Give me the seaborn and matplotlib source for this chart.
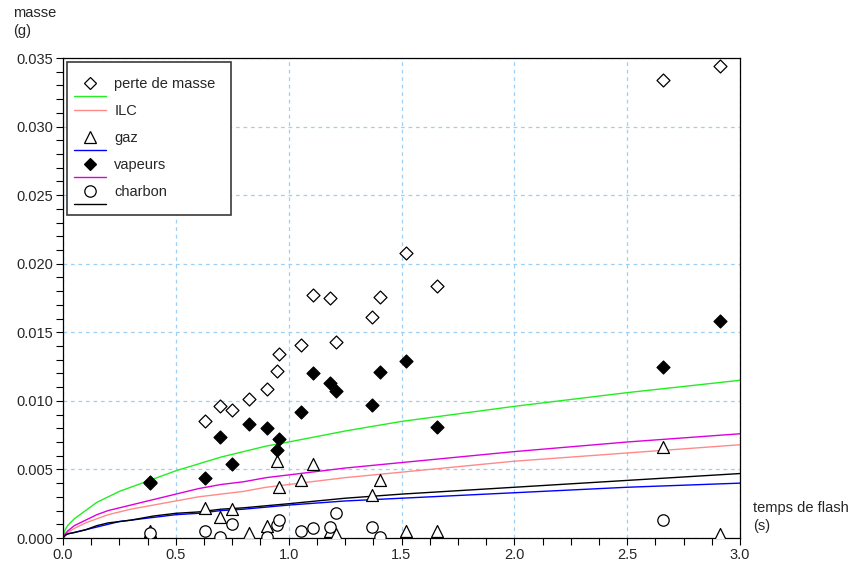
import numpy as np
import matplotlib
matplotlib.use('Agg')
import matplotlib.pyplot as plt
import seaborn as sns
from matplotlib.ticker import MultipleLocator, FormatStrFormatter
from matplotlib.legend_handler import HandlerBase
from matplotlib.lines import Line2D

# mesures (temps de flash en s, masses en g)
t = [0.385, 0.631, 0.694, 0.747, 0.826, 0.903, 0.950, 0.959, 1.053,
     1.106, 1.183, 1.208, 1.369, 1.406, 1.519, 1.657, 2.659, 2.911]
perte = [0.0040, 0.0085, 0.0096, 0.0093, 0.0101, 0.0109, 0.0122, 0.0134, 0.0141,
         0.0177, 0.0175, 0.0143, 0.0161, 0.0176, 0.0208, 0.0184, 0.0334, 0.0344]
vapeurs = [0.0041, 0.0044, 0.0074, 0.0054, 0.0083, 0.0080, 0.0064, 0.0072, 0.0092,
           0.0120, 0.0113, 0.0107, 0.0097, 0.0121, 0.0129, 0.0081, 0.0125, 0.0158]
gaz = [0.0005, 0.0022, 0.0015, 0.0021, 0.00035, 0.0009, 0.0056, 0.0037, 0.0042,
       0.0054, 0.0005, 0.0003, 0.0031, 0.0042, 0.0005, 0.0005, 0.0066, 0.0003]
charbon = [0.0004, 0.0005, 0.0001, 0.0010, np.nan, 0.0001, 0.00095, 0.0013, 0.0005,
           0.0007, 0.0008, 0.0018, 0.0008, 0.0001, np.nan, np.nan, 0.0013, np.nan]

# courbes du modele
t_mod = [0, 0.005, 0.01, 0.02, 0.05, 0.1, 0.15, 0.2, 0.25, 0.3, 0.4, 0.5, 0.6, 0.7,
         0.8, 0.9, 1.0, 1.25, 1.5, 2.0, 2.5, 3.0]
mod_perte = [0, 0.0004, 0.0006, 0.0009, 0.0014, 0.0020, 0.0026, 0.0030, 0.0034, 0.0037,
             0.0043, 0.0049, 0.0054, 0.0059, 0.0063, 0.0067, 0.0070, 0.0078, 0.0085,
             0.0096, 0.0106, 0.0115]
mod_ilc = [0, 0.0002, 0.0003, 0.0004, 0.0007, 0.0011, 0.0014, 0.0017, 0.0019, 0.0021,
           0.0024, 0.0027, 0.0030, 0.0032, 0.0034, 0.0037, 0.0039, 0.0044, 0.0048,
           0.0056, 0.0062, 0.0068]
mod_gaz = [0, 0.0001, 0.0002, 0.0003, 0.0004, 0.0006, 0.0008, 0.0010, 0.0012, 0.0013,
           0.0015, 0.0017, 0.0018, 0.0020, 0.0021, 0.00225, 0.0024, 0.0027, 0.0029,
           0.0033, 0.0037, 0.0040]
mod_vapeurs = [0, 0.0002, 0.0003, 0.0005, 0.0009, 0.0013, 0.0017, 0.0020, 0.0022, 0.0024,
               0.0028, 0.0032, 0.0036, 0.0039, 0.0041, 0.0044, 0.0046, 0.0051, 0.0055,
               0.0063, 0.0070, 0.0076]
mod_charbon = [0, 0.0001, 0.0002, 0.0003, 0.0004, 0.0006, 0.0009, 0.0011, 0.0012, 0.0013,
               0.0016, 0.0018, 0.0019, 0.0021, 0.0022, 0.00235, 0.0025, 0.0029, 0.0032,
               0.0037, 0.0042, 0.0047]

c_perte, c_ilc, c_gaz, c_vap, c_charb = '#22ee22', '#ff8a8a', '#0000ff', '#dd00dd', 'black'

sns.set_style('ticks')
plt.rcParams['font.family'] = ['Liberation Sans', 'DejaVu Sans']
plt.rcParams['font.size'] = 10.5

fig = plt.figure(figsize=(8.52, 5.65), dpi=100)
ax = fig.add_axes([63/852, 27/565, 677/852, 480/565])

ax.grid(True, which='major', color='#9fd0f4', linestyle=(0, (3, 3)), linewidth=0.9)
ax.set_axisbelow(True)

for yy, cc in [(mod_perte, c_perte), (mod_ilc, c_ilc), (mod_gaz, c_gaz),
               (mod_vapeurs, c_vap), (mod_charbon, c_charb)]:
    sns.lineplot(x=t_mod, y=yy, color=cc, linewidth=1.0, estimator=None, ax=ax, zorder=2)

ms_d, ms_t, ms_o = 6.6, 8.6, 8.2
sns.scatterplot(x=t, y=perte, marker='D', s=ms_d**2, color='white', edgecolor='black', linewidth=0.9, zorder=3, ax=ax)
sns.scatterplot(x=t, y=gaz, marker='^', s=ms_t**2, color='white', edgecolor='black', linewidth=0.9, zorder=3, ax=ax)
sns.scatterplot(x=t, y=vapeurs, marker='D', s=ms_d**2, color='black', edgecolor='black', linewidth=0.9, zorder=3, ax=ax)
sns.scatterplot(x=t, y=charbon, marker='o', s=ms_o**2, color='white', edgecolor='black', linewidth=0.9, zorder=3, ax=ax)

ax.set_xlim(0, 3.0)
ax.set_ylim(0, 0.035)
ax.xaxis.set_major_locator(MultipleLocator(0.5))
ax.xaxis.set_minor_locator(MultipleLocator(0.125))
ax.yaxis.set_major_locator(MultipleLocator(0.005))
ax.yaxis.set_minor_locator(MultipleLocator(0.001))
ax.xaxis.set_major_formatter(FormatStrFormatter('%.1f'))
ax.yaxis.set_major_formatter(FormatStrFormatter('%.3f'))
ax.tick_params(which='both', direction='out', length=5, width=0.8, color='black', labelsize=10.5, pad=2)
ax.set_xlabel('')
ax.set_ylabel('')
for sp in ax.spines.values():
    sp.set_color('black')
    sp.set_linewidth(0.9)


class MarkerOverLine(HandlerBase):
    # marqueur en haut, trait en dessous (comme la legende d'origine)
    def __init__(self, ext=5.8, drop=9.4):
        super().__init__()
        self.ext = ext
        self.drop = drop

    def create_artists(self, legend, orig_handle, xdescent, ydescent, width, height, fontsize, trans):
        mk, ln = orig_handle
        x0 = -xdescent - self.ext
        x1 = -xdescent + width
        yc = (height - ydescent) / 2
        arts = []
        if mk is None:
            l = Line2D([x0, x1], [yc, yc], color=ln.get_color(), lw=ln.get_linewidth())
            arts.append(l)
        else:
            l = Line2D([x0, x1], [yc - self.drop] * 2, color=ln.get_color(), lw=ln.get_linewidth())
            m = Line2D([(x0 + x1) / 2], [yc], marker=mk.get_marker(), ms=mk.get_markersize(),
                       mfc=mk.get_markerfacecolor(), mec=mk.get_markeredgecolor(),
                       mew=mk.get_markeredgewidth(), ls='none')
            arts += [l, m]
        for a in arts:
            a.set_transform(trans)
        return arts


def mk(marker, size, fc):
    return Line2D([], [], marker=marker, ms=size, mfc=fc, mec='black', mew=0.9, ls='none')


def ln(color):
    return Line2D([], [], color=color, lw=1.0)


handles = [(mk('D', ms_d, 'white'), ln(c_perte)),
           (None, ln(c_ilc)),
           (mk('^', ms_t, 'white'), ln(c_gaz)),
           (mk('D', ms_d, 'black'), ln(c_vap)),
           (mk('o', ms_o, 'white'), ln(c_charb))]
labels = ['perte de masse', 'ILC', 'gaz', 'vapeurs', 'charbon']
leg = ax.legend(handles, labels, handler_map={tuple: MarkerOverLine()}, loc='upper left',
                bbox_to_anchor=(4/677, 1 - 4/480), borderaxespad=0, frameon=True, fancybox=False,
                edgecolor='#3a3a3a', framealpha=1, borderpad=1.05, labelspacing=0.89,
                handlelength=1.65, handletextpad=0.55, fontsize=10.5)
leg.get_frame().set_linewidth(1.2)

fig.text(13/852, 1 - 6/565, 'masse\n(g)', ha='left', va='top', fontsize=10.5, linespacing=1.4)
fig.text(753/852, 1 - 501/565, 'temps de flash\n(s)', ha='left', va='top', fontsize=10.5, linespacing=1.4)

fig.savefig('out.png', dpi=100)
